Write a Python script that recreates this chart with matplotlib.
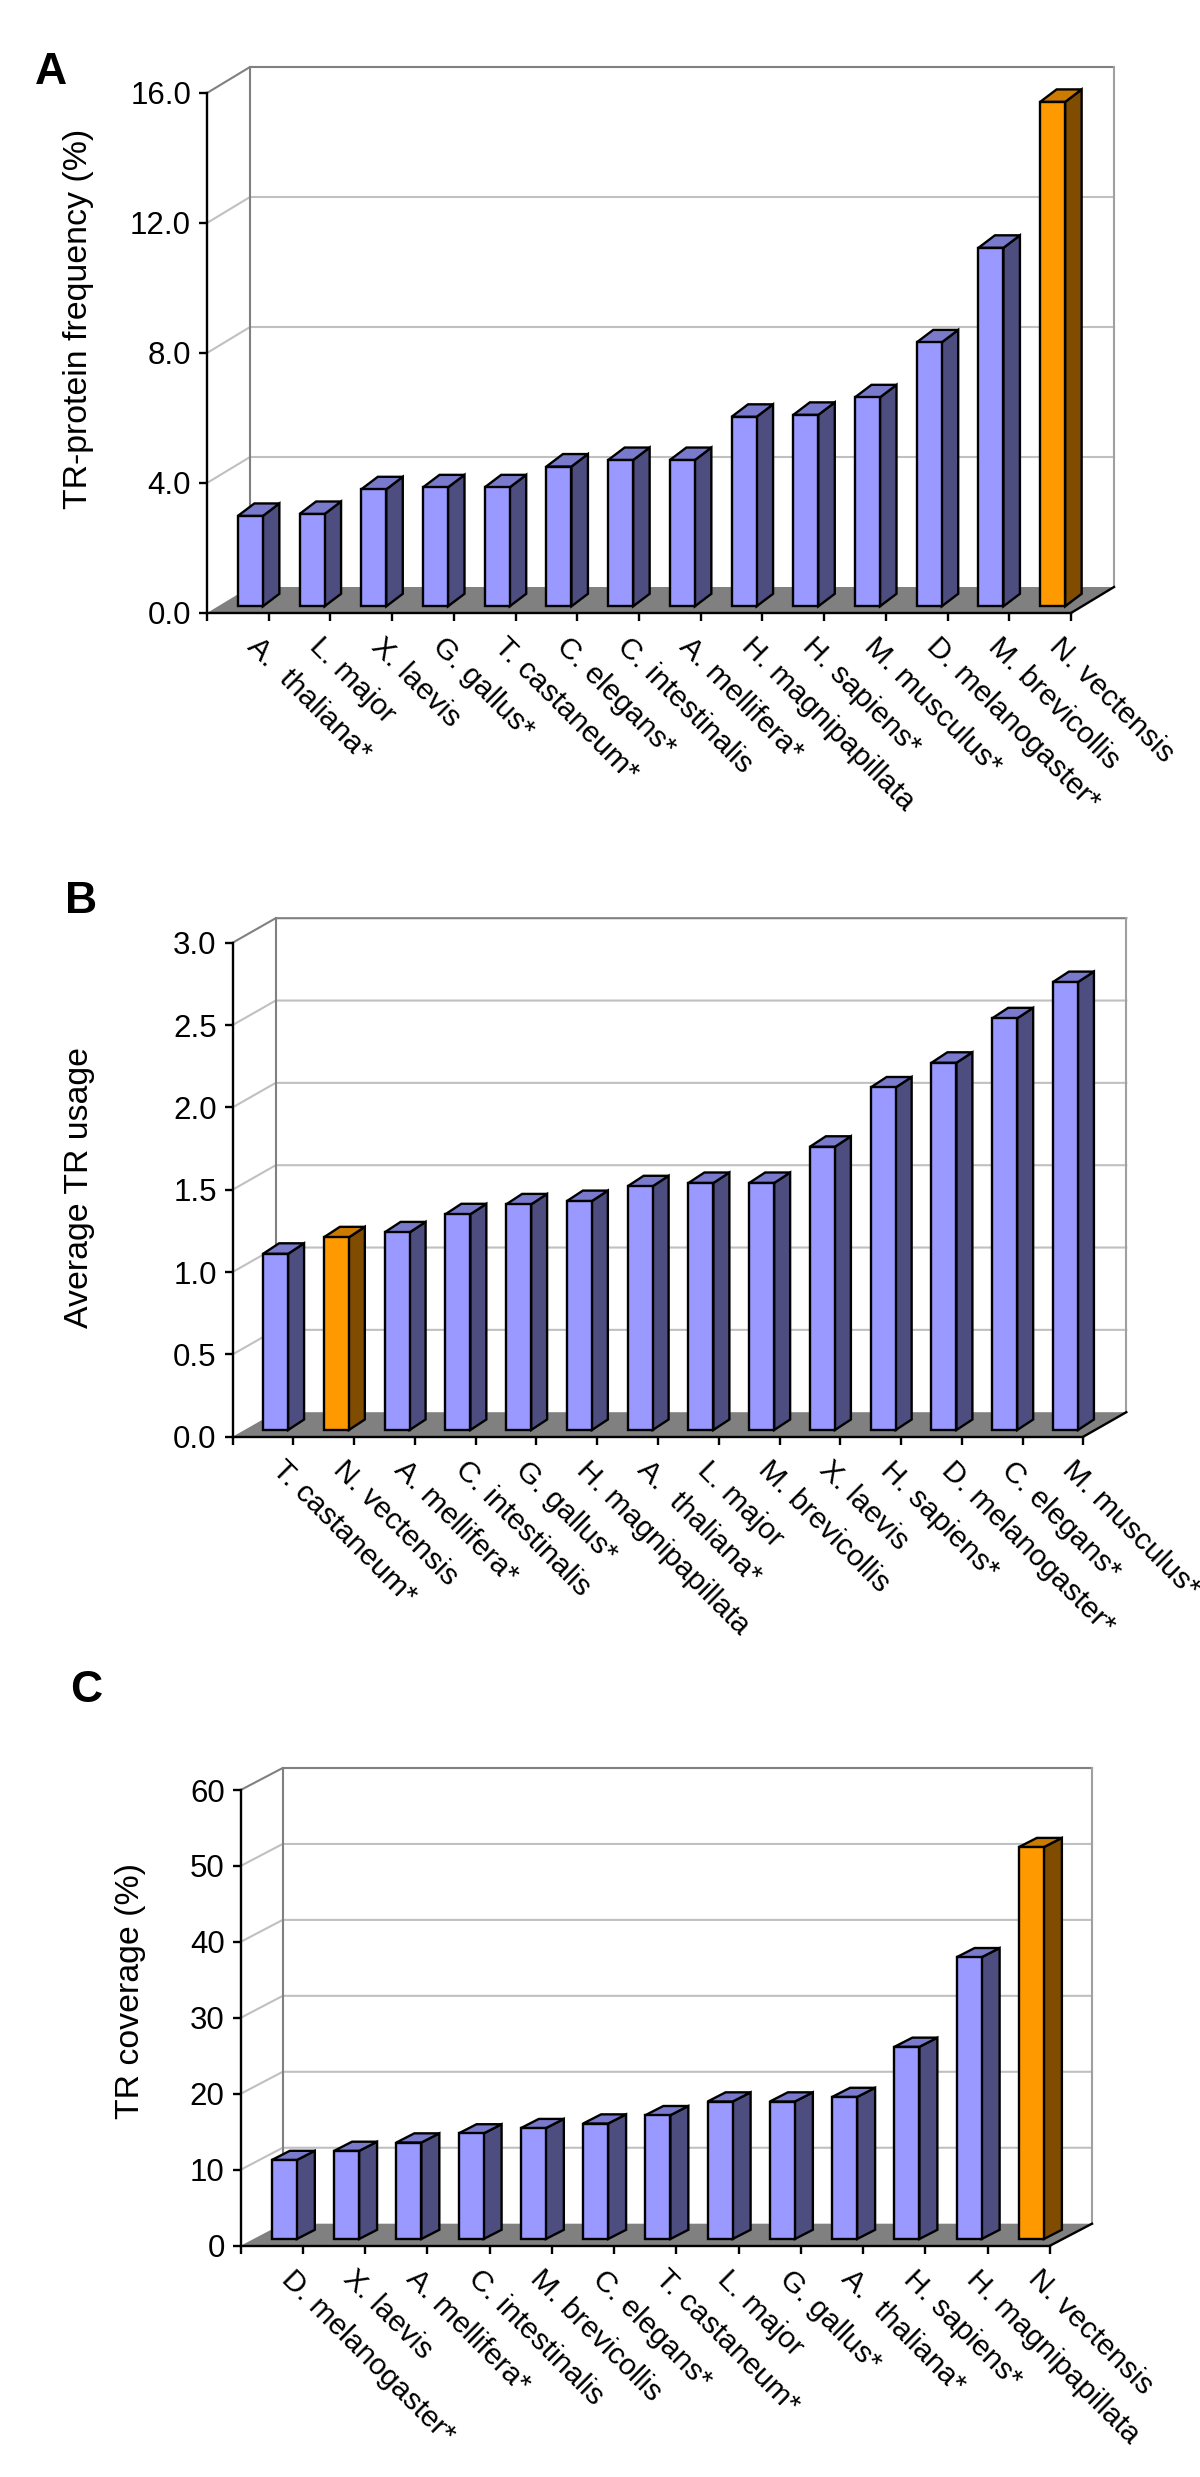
import matplotlib
matplotlib.use("Agg")
import matplotlib.pyplot as plt

plt.rcParams["font.family"] = ["Liberation Sans", "DejaVu Sans"]

# values
cats_a = ["A.  thaliana*", "L. major", "X. laevis", "G. gallus*", "T. castaneum*", "C. elegans*",
          "C. intestinalis", "A. mellifera*", "H. magnipapillata", "H. sapiens*", "M. musculus*",
          "D. melanogaster*", "M. brevicollis", "N. vectensis"]
vals_a = [2.78, 2.84, 3.60, 3.66, 3.66, 4.30, 4.50, 4.50, 5.83, 5.89, 6.43, 8.12, 11.03, 15.52]
ticks_a = [0, 4, 8, 12, 16]
ticklabels_a = ["0.0", "4.0", "8.0", "12.0", "16.0"]

cats_b = ["T. castaneum*", "N. vectensis", "A. mellifera*", "C. intestinalis", "G. gallus*",
          "H. magnipapillata", "A.  thaliana*", "L. major", "M. brevicollis", "X. laevis",
          "H. sapiens*", "D. melanogaster*", "C. elegans*", "M. musculus*"]
vals_b = [1.07, 1.17, 1.20, 1.31, 1.37, 1.39, 1.48, 1.50, 1.50, 1.72, 2.08, 2.23, 2.50, 2.72]
ticks_b = [0, 0.5, 1, 1.5, 2, 2.5, 3]
ticklabels_b = ["0.0", "0.5", "1.0", "1.5", "2.0", "2.5", "3.0"]

cats_c = ["D. melanogaster*", "X. laevis", "A. mellifera*", "C. intestinalis", "M. brevicollis",
          "C. elegans*", "T. castaneum*", "L. major", "G. gallus*", "A.  thaliana*",
          "H. sapiens*", "H. magnipapillata", "N. vectensis"]
vals_c = [10.4, 11.6, 12.7, 13.9, 14.6, 15.2, 16.3, 18.1, 18.1, 18.7, 25.3, 37.1, 51.6]
ticks_c = [0, 10, 20, 30, 40, 50, 60]
ticklabels_c = ["0", "10", "20", "30", "40", "50", "60"]

highlight = "N. vectensis"

W = 1200
H = 2477
FS = 21.6
FS_TICK = 22.5
FS_LABEL = 24.4
LW = 1.7


def panel(left, right, top, bottom, wall_dx, wall_dy, bar_dx, bar_dy, base_px, cats, vals, ticks, ticklabels):
    # left/right/top/bottom are the front face of the box, in pixels of the picture
    ax = plt.axes([left / W, 1 - bottom / H, (right - left) / W, (bottom - top) / H])
    n = len(cats)
    ymax = ticks[-1]
    ax.set_xlim(0, n)
    ax.set_ylim(0, ymax)
    xpx = (right - left) / n
    ypx = (bottom - top) / ymax
    wx = wall_dx / xpx
    wy = wall_dy / ypx
    bx = bar_dx / xpx
    by = bar_dy / ypx
    base = base_px / ypx
    width = 25 / xpx

    # walls and floor
    ax.fill([0, n, n + wx, wx], [0, 0, wy, wy], color="#808080", lw=0, clip_on=False, zorder=1)
    for t in ticks[1:-1]:
        ax.plot([0, wx, n + wx], [t, t + wy, t + wy], color="#C0C0C0", lw=1.5, clip_on=False, zorder=1)
    ax.plot([0, wx, n + wx], [ymax, ymax + wy, ymax + wy], color="#808080", lw=1.5, clip_on=False, zorder=1)
    ax.plot([wx, wx], [wy, ymax + wy], color="#808080", lw=1.5, clip_on=False, zorder=1)
    ax.plot([n + wx, n + wx], [wy, ymax + wy], color="#A0A0A0", lw=1.5, clip_on=False, zorder=1)
    ax.plot([n, n + wx], [0, wy], color="black", lw=LW, clip_on=False, zorder=2)

    # 3d bars
    for i, v in enumerate(vals):
        if cats[i] == highlight:
            front, side, cap = "#FF9900", "#7F4C00", "#CC7A00"
        else:
            front, side, cap = "#9999FF", "#4D4D80", "#7A7ACC"
        x0 = i + 0.5
        x1 = x0 + width
        y0 = base
        y1 = base + v
        ax.fill([x1, x1 + bx, x1 + bx, x1], [y0, y0 + by, y1 + by, y1], facecolor=side, edgecolor="black",
                lw=LW, joinstyle="miter", clip_on=False, zorder=3)
        ax.fill([x0, x1, x1 + bx, x0 + bx], [y1, y1, y1 + by, y1 + by], facecolor=cap, edgecolor="black",
                lw=LW, joinstyle="miter", clip_on=False, zorder=3)
        ax.bar(x0, v, width=width, bottom=y0, align="edge", color=front, edgecolor="black", lw=LW,
               clip_on=False, zorder=4)

    for s in ["top", "right"]:
        ax.spines[s].set_visible(False)
    ax.spines["left"].set_linewidth(LW)
    ax.spines["bottom"].set_linewidth(LW)
    ax.patch.set_visible(False)
    ax.set_yticks(ticks)
    ax.set_yticklabels(ticklabels, fontsize=FS_TICK)
    ax.set_xticks(range(n + 1))
    ax.set_xticklabels([])
    ax.tick_params(axis="both", length=5.5, width=LW, direction="out")
    ax.tick_params(axis="y", pad=6)

    for i, c in enumerate(cats):
        ax.annotate(c, xy=(i + 0.5, 0), xytext=(14, -29), textcoords="offset pixels", fontsize=FS,
                    rotation=-45, rotation_mode="anchor", ha="left", va="center", annotation_clip=False)
    return ax


panel(207, 1071, 93, 613, 43, 26, 16.5, 12.5, 6.7, cats_a, vals_a, ticks_a, ticklabels_a)
panel(232.7, 1083.3, 942.7, 1436.7, 43, 24.5, 16, 10.5, 6.7, cats_b, vals_b, ticks_b, ticklabels_b)
panel(240.7, 1050, 1790, 2245.7, 42, 22, 18, 9.2, 6.7, cats_c, vals_c, ticks_c, ticklabels_c)

plt.gcf().set_size_inches(W / 100, H / 100)

fig = plt.gcf()
fig.text(79 / W, 1 - 319 / H, "TR-protein frequency (%)", fontsize=FS_LABEL, rotation=90, ha="center", va="center")
fig.text(80 / W, 1 - 1188 / H, "Average TR usage", fontsize=FS_LABEL, rotation=90, ha="center", va="center")
fig.text(130 / W, 1 - 1991 / H, "TR coverage (%)", fontsize=FS_LABEL, rotation=90, ha="center", va="center")

fig.text(51 / W, 1 - 73 / H, "A", fontsize=32, fontweight="bold", ha="center", va="center")
fig.text(81 / W, 1 - 901 / H, "B", fontsize=32, fontweight="bold", ha="center", va="center")
fig.text(86 / W, 1 - 1691 / H, "C", fontsize=32, fontweight="bold", ha="center", va="center")

fig.savefig("out.png", dpi=100, facecolor="white")
